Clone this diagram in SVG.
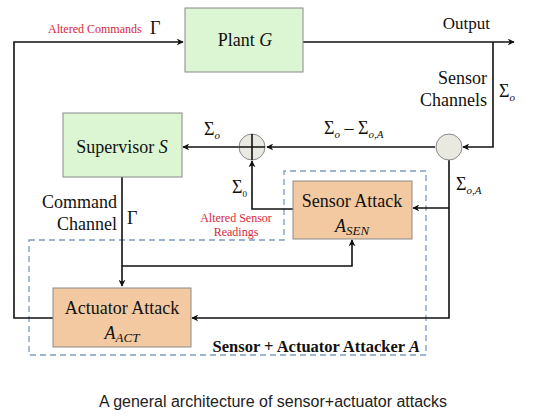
<svg xmlns="http://www.w3.org/2000/svg" width="546" height="419" viewBox="0 0 546 419">
<style>
.t{font-family:"Liberation Serif","Times New Roman","DejaVu Serif",serif;fill:#111}
.red{font-family:"Liberation Serif","Times New Roman","DejaVu Serif",serif;fill:#d8283c;font-size:12px}
.g{fill:#dcf5d2;stroke:#8a8a8a;stroke-width:1}
.o{fill:#f2c9a0;stroke:#8a8a8a;stroke-width:1}
.c{fill:#e9e9e2;stroke:#8a8a8a;stroke-width:1}
.ln{fill:none;stroke:#111;stroke-width:1.6}
.d{fill:none;stroke:#7d9ac4;stroke-width:1.3;stroke-dasharray:6,4}
</style>
<defs>
<marker id="ar" viewBox="0 0 10 10" refX="9" refY="5" markerWidth="7" markerHeight="7" markerUnits="userSpaceOnUse" orient="auto"><path d="M0,0 L10,5 L0,10 L3,5 z" fill="#111"/></marker>
</defs>
<rect width="546" height="419" fill="#fff"/>
<g id="attacker-region"><path class="d" d="M29,240 H284 V171 H426 V355 H29 Z"/></g>
<g id="connectors">
<path class="ln" d="M53,318 H14 V42 H183" marker-end="url(#ar)"/>
<path class="ln" d="M303,42 H514" marker-end="url(#ar)"/>
<path class="ln" d="M493,42 V147 H463" marker-end="url(#ar)"/>
<path class="ln" d="M435,147 H267" marker-end="url(#ar)"/>
<path class="ln" d="M239,147 H183" marker-end="url(#ar)"/>
<path class="ln" d="M449,160 V318 H192" marker-end="url(#ar)"/>
<path class="ln" d="M449,208 H413" marker-end="url(#ar)"/>
<path class="ln" d="M293,209 H252 V161" marker-end="url(#ar)"/>
<path class="ln" d="M122,177 V286" marker-end="url(#ar)"/>
<path class="ln" d="M122,266 H352 V240" marker-end="url(#ar)"/>
</g>
<g id="plant"><rect class="g" x="185" y="8" width="118" height="64"/><text class="t" x="245" y="46" font-size="18" text-anchor="middle">Plant <tspan font-style="italic">G</tspan></text></g>
<g id="supervisor"><rect class="g" x="63" y="113" width="119" height="64"/><text class="t" x="122" y="153" font-size="18" text-anchor="middle">Supervisor <tspan font-style="italic">S</tspan></text></g>
<g id="sensor-attack"><rect class="o" x="293" y="181" width="119" height="58"/><text class="t" x="352" y="207" font-size="18" text-anchor="middle">Sensor Attack</text><text class="t" x="352" y="232" font-size="18" text-anchor="middle" font-style="italic">A<tspan font-size="13" dy="3">SEN</tspan></text></g>
<g id="actuator-attack"><rect class="o" x="53" y="288" width="138" height="59"/><text class="t" x="122" y="314" font-size="18" text-anchor="middle">Actuator Attack</text><text class="t" x="122" y="339" font-size="18" text-anchor="middle" font-style="italic">A<tspan font-size="13" dy="3">ACT</tspan></text></g>
<g id="junction-left"><ellipse class="c" cx="252" cy="147" rx="13" ry="13"/><path class="ln" d="M239,147 H265 M252,134 V160" stroke-width="1.3"/></g>
<g id="junction-right"><ellipse class="c" cx="449" cy="147" rx="13" ry="13"/></g>
<g id="labels">
<text class="red" x="48" y="33">Altered Commands</text>
<text class="t" x="150" y="34" font-size="18">Γ</text>
<text class="t" x="490" y="29" font-size="17" text-anchor="end">Output</text>
<text class="t" x="487" y="84" font-size="18" text-anchor="end">Sensor</text>
<text class="t" x="487" y="106" font-size="18" text-anchor="end">Channels</text>
<text class="t" x="499" y="97" font-size="18">Σ<tspan font-size="11" font-style="italic" dy="4">o</tspan></text>
<text class="t" x="204" y="135" font-size="18">Σ<tspan font-size="11" font-style="italic" dy="4">o</tspan></text>
<text class="t" x="324" y="134" font-size="18">Σ<tspan font-size="11" font-style="italic" dy="4">o</tspan><tspan dy="-4"> – Σ</tspan><tspan font-size="11" font-style="italic" dy="4">o,A</tspan></text>
<text class="t" x="456" y="190" font-size="18">Σ<tspan font-size="11" font-style="italic" dy="4">o,A</tspan></text>
<text class="t" x="232" y="193" font-size="18">Σ<tspan font-size="9" dy="4">0</tspan></text>
<text class="red" x="236" y="222" text-anchor="middle">Altered Sensor</text>
<text class="red" x="236" y="236" text-anchor="middle">Readings</text>
<text class="t" x="117" y="208" font-size="18" text-anchor="end">Command</text>
<text class="t" x="117" y="230" font-size="18" text-anchor="end">Channel</text>
<text class="t" x="127" y="224" font-size="18">Γ</text>
<text class="t" x="420" y="352" font-size="16.5" font-weight="bold" text-anchor="end">Sensor + Actuator Attacker <tspan font-style="italic">A</tspan></text>
<text x="273" y="407" font-family="Liberation Sans, Arial, sans-serif" font-size="16" fill="#222" text-anchor="middle">A general architecture of sensor+actuator attacks</text>
</g>
</svg>
